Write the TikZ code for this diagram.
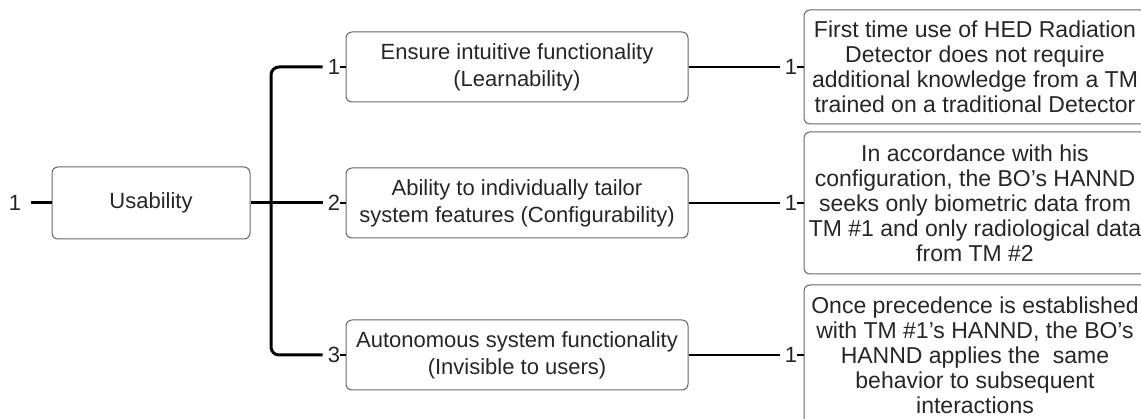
\documentclass[tikz,border=0pt]{standalone}
\usepackage{fontspec}
\setmainfont{Liberation Sans}
\usetikzlibrary{positioning}

\tikzset{
  box/.style={draw=black!60, line width=1pt, rounded corners=6pt, align=center, inner sep=0pt, text=black!85},
  midbox/.style={box, minimum width=342pt, minimum height=70pt, font=\fontsize{22}{27}\selectfont},
  leafbox/.style={box, minimum width=342pt, font=\fontsize{23}{25}\selectfont},
  num/.style={inner sep=0pt, text=black!85, font=\fontsize{22}{26}\selectfont},
  branch/.style={line width=3pt},
  twig/.style={line width=2.5pt},
  tick/.style={line width=1.5pt}
}

\begin{document}
\begin{tikzpicture}[x=1pt,y=-1pt]
        \useasboundingbox (0,0) rectangle (1141,419);
        \clip (0,0) rectangle (1141,419);
        % root
        \node[num] (top) at (15,203) {1};
        \node[box, minimum width=198pt, minimum height=72pt, font=\fontsize{22}{26}\selectfont] (usab) at (151,203) {Usability};
        % second level
        \node[num] (b1) at (334,67) {1};
        \node[num] (b2) at (334,203) {2};
        \node[num] (b3) at (334,355) {3};
        \node[midbox] (m1) at (517,67) {Ensure intuitive functionality\\(Learnability)};
        \node[midbox] (m2) at (517,203) {Ability to individually tailor\\system features (Configurability)};
        \node[midbox] (m3) at (517,355) {Autonomous system functionality\\(Invisible to users)};
        % third level
        \node[num] (c1) at (791,67) {1};
        \node[num] (c2) at (791,203) {1};
        \node[num] (c3) at (791,355) {1};
        \node[leafbox, minimum height=114pt] (r1) at (975,67) {First time use of HED Radiation\\Detector does not require\\additional knowledge from a TM\\trained on a traditional Detector};
        \node[leafbox, minimum height=142pt] (r2) at (975,203) {In accordance with his\\configuration, the BO’s HANND\\seeks only biometric data from\\TM \#1 and only radiological data\\from TM \#2};
        \node[leafbox, minimum height=140pt] (r3) at (975,355) {Once precedence is established\\with TM \#1's HANND, the BO’s\\HANND applies the~ same\\behavior to subsequent\\interactions};
        \coordinate (fork) at (271,203);
        % connectors
        \draw[branch, shorten <=10pt] (top) -- (usab);
        \draw[branch, shorten >=5pt] (usab) -- (b2);
        \draw[branch, rounded corners=8pt, shorten <=5pt, shorten >=5pt] (b1.west) -| (fork) |- (b3.west);
        \foreach \i in {1,2,3} {
            \draw[tick] (b\i) -- (m\i);
            \draw[twig, shorten >=5pt] (m\i) -- (c\i);
            \draw[tick] (c\i) -- (r\i);
        }
\end{tikzpicture}
\end{document}
